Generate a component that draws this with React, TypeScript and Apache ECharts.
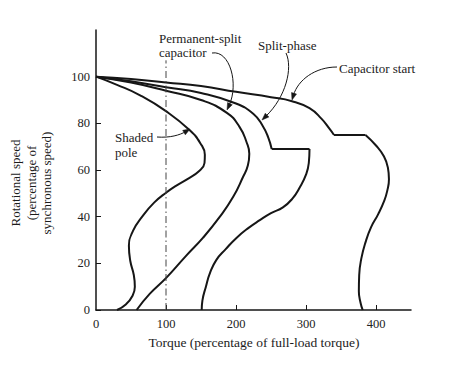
import React, { useEffect, useRef } from "react";
import * as echarts from "echarts";

// ---- Data (torque %, speed %) ----
const xTicks = [0, 100, 200, 300, 400];
const yTicks = [0, 20, 40, 60, 80, 100];

const shadedPole = [
  [0, 100], [30, 96.5], [63, 92], [101, 85], [134, 77], [149, 71.5], [155.5, 66.5], [155, 63],
  [147, 59.5], [130, 56], [113, 53], [101, 50.5], [83, 46], [66, 40], [53, 34], [47, 27.5], [49, 21],
  [54, 15], [55.5, 10], [52, 6], [43, 2.5], [30, 0],
];
const permanentSplit = [
  [0, 100], [50, 97.5], [100, 94], [150, 90], [187, 84.5], [205, 78.5], [215, 72], [219, 67],
  [217, 62], [210, 57], [196, 48.5], [177, 40], [153, 31], [128, 23], [101, 14], [77, 7], [58, 0],
];
const splitPhase = [
  [0, 100], [50, 98], [100, 95.5], [150, 93], [200, 88.5], [225, 84], [238, 79], [246, 74],
  [251, 69], [305, 69], [304, 63], [300, 58], [291, 52.5], [280, 47.5], [267, 44], [250, 41.5],
  [234, 38.5], [217, 35], [201, 31], [185, 26], [172, 21.5], [163, 16], [157, 10], [152, 4], [151, 0],
];
const splitPhaseCorners = [8, 9];
const capacitorStart = [
  [0, 100], [50, 99], [100, 97.5], [150, 96], [200, 93.5], [250, 91.2], [280, 89.5],
  [305, 86.5], [322, 82], [334, 77.5], [340, 75], [385, 75], [400, 70.5], [411, 66],
  [417, 61], [418.5, 56], [416, 51], [412, 47], [403, 41], [393, 35.5], [385, 29], [379, 22],
  [376, 15], [375.5, 8], [378, 3], [381, 0],
];
const capacitorStartCorners = [10, 11];
const fullLoadLine = [[100, 0], [100, 107]];

const FONT = "'Liberation Serif', 'DejaVu Serif', serif";
const INK = "#161616";

function splitAt(pts: number[][], corners: number[]) {
  const segs: number[][][] = [];
  let start = 0;
  for (const c of corners) {
    segs.push(pts.slice(start, c + 1));
    start = c;
  }
  segs.push(pts.slice(start));
  return segs;
}

function arrow(x1: number, y1: number, c1x: number, c1y: number, c2x: number, c2y: number, x2: number, y2: number) {
  let dx = x2 - c2x, dy = y2 - c2y;
  const len = Math.hypot(dx, dy) || 1;
  dx /= len; dy /= len;
  const L = 7, w = 2.6;
  const bx = x2 - dx * L, by = y2 - dy * L;
  const px = -dy, py = dx;
  return [
    {
      type: "bezierCurve", silent: true,
      shape: { x1, y1, cpx1: c1x, cpy1: c1y, cpx2: c2x, cpy2: c2y, x2: bx + dx * 2, y2: by + dy * 2 },
      style: { stroke: INK, lineWidth: 1, fill: null },
    },
    {
      type: "polygon", silent: true,
      shape: { points: [[x2, y2], [bx + px * w, by + py * w], [bx - px * w, by - py * w]] },
      style: { fill: INK, stroke: INK, lineWidth: 0.5 },
    },
  ];
}

function label(text: string, x: number, y: number, extra: any = {}) {
  return {
    type: "text", silent: true, x, y,
    style: { text, fontFamily: FONT, fontSize: 13, fill: "#1c1c1c", align: "left", verticalAlign: "middle", ...extra },
  };
}

export default function App() {
  const ref = useRef<HTMLDivElement>(null);
  useEffect(() => {
    document.body.style.margin = "0";
    const chart = echarts.init(ref.current!, null, { renderer: "svg" });
    const curve = (data: number[][]) => ({
      type: "line", data, smooth: 0.5, symbol: "none",
      lineStyle: { color: INK, width: 2 }, silent: true,
    });
    const series: any[] = [
      curve(shadedPole),
      curve(permanentSplit),
      ...splitAt(splitPhase, splitPhaseCorners).map(curve),
      ...splitAt(capacitorStart, capacitorStartCorners).map(curve),
      {
        type: "line", data: fullLoadLine, symbol: "none", silent: true,
        lineStyle: { color: "#444", width: 1, type: [7, 3, 1.5, 3] },
      },
    ];
    chart.setOption({
      animation: false,
      backgroundColor: "#fff",
      grid: { left: 96, top: 30, width: 315, height: 280 },
      xAxis: {
        type: "value", min: 0, max: 450,
        axisLine: { show: true, lineStyle: { color: INK, width: 1.5 } },
        axisTick: { show: true, inside: true, length: 5, customValues: [100, 200, 300, 400], lineStyle: { color: INK } },
        axisLabel: { customValues: xTicks, margin: 7, color: "#222", fontFamily: FONT, fontSize: 12.5 },
        splitLine: { show: false },
      },
      yAxis: {
        type: "value", min: 0, max: 120,
        axisLine: { show: true, lineStyle: { color: INK, width: 1.5 } },
        axisTick: { show: true, inside: true, length: 5, customValues: yTicks, lineStyle: { color: INK } },
        axisLabel: { customValues: yTicks, margin: 6, color: "#222", fontFamily: FONT, fontSize: 12.5 },
        splitLine: { show: false },
      },
      series,
      graphic: [
        {
          type: "text", silent: true, x: 31, y: 183, rotation: Math.PI / 2,
          style: {
            text: "Rotational speed\n(percentage of\nsynchronous speed)",
            fontFamily: FONT, fontSize: 13, lineHeight: 15.5, fill: "#1c1c1c",
            align: "center", verticalAlign: "middle",
          },
        },
        label("Torque (percentage of full-load torque)", 254, 342, { align: "center", fontSize: 13.5 }),
        label("Permanent-split", 159, 38),
        label("capacitor", 159, 52),
        label("Split-phase", 258, 45),
        label("Capacitor start", 339, 68),
        label("Shaded", 115, 137),
        label("pole", 115, 152),
        ...arrow(212, 53, 230, 50, 239, 84, 227, 110),
        ...arrow(286, 53, 293, 68, 286, 97, 262, 120),
        ...arrow(337, 67, 315, 67, 298, 80, 292, 100),
        ...arrow(157, 137, 170, 138, 180, 135, 190, 129),
      ],
    });
    return () => chart.dispose();
  }, []);
  return <div ref={ref} style={{ width: 450, height: 368 }} />;
}
